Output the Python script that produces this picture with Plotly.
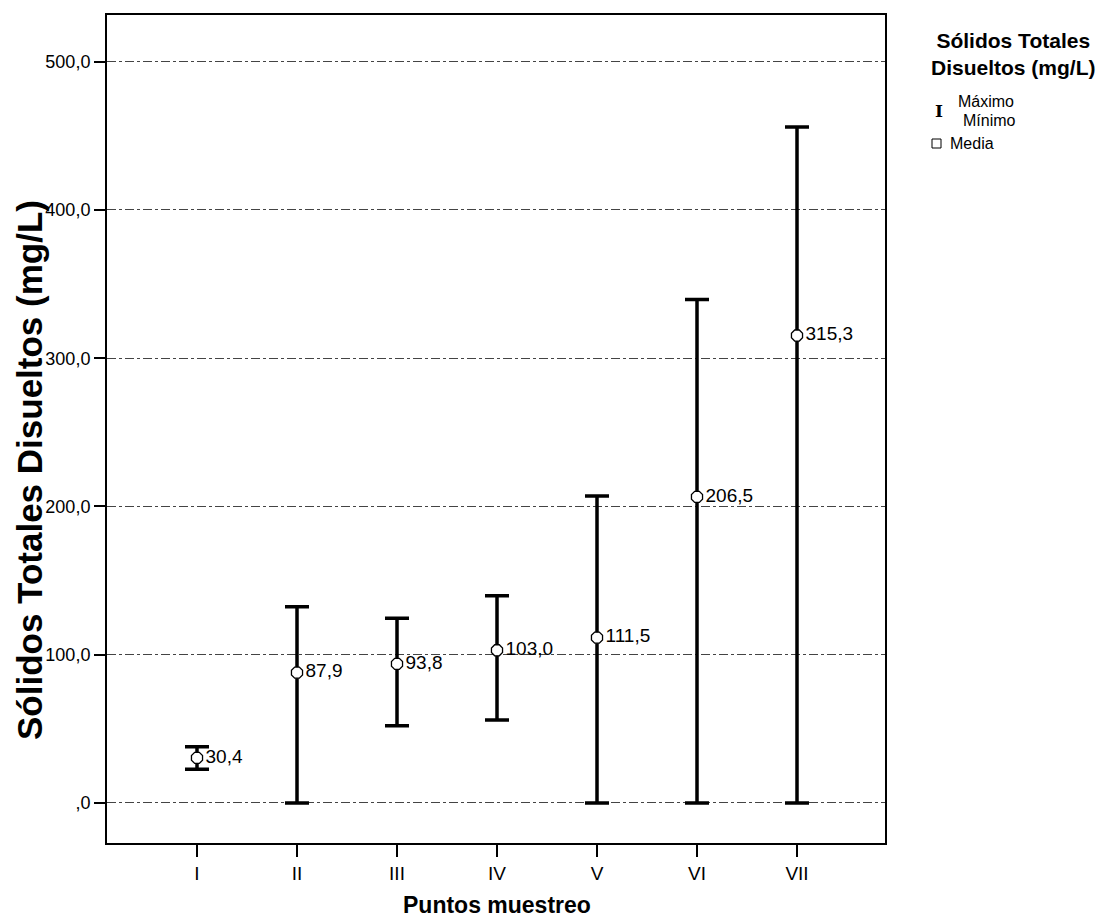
import plotly.graph_objects as go

categories = ["I", "II", "III", "IV", "V", "VI", "VII"]
mean_vals = [30.4, 87.9, 93.8, 103.0, 111.5, 206.5, 315.3]
max_vals = [37.9, 132.4, 124.6, 139.8, 207.0, 339.6, 455.9]
min_vals = [22.8, 0.0, 52.1, 56.0, 0.0, 0.0, 0.0]
mean_labels = ["30,4", "87,9", "93,8", "103,0", "111,5", "206,5", "315,3"]
y_tick_vals = [0, 100, 200, 300, 400, 500]
y_tick_text = [",0", "100,0", "200,0", "300,0", "400,0", "500,0"]

W, H = 1111, 924
L, R, T, B = 107, 885, 15, 843

def px(x):
    return (x - L) / (R - L)

def py(y):
    return (B - y) / (B - T)

xs = list(range(len(categories)))
font_main = "Liberation Sans, Arial, sans-serif"

fig = go.Figure()
fig.add_trace(go.Scatter(
    x=xs, y=mean_vals,
    mode="markers+text",
    text=mean_labels,
    textposition="middle right",
    textfont=dict(family=font_main, size=19, color="black"),
    marker=dict(symbol="octagon", size=12, color="white", line=dict(color="black", width=1.3)),
    error_y=dict(
        type="data", symmetric=False,
        array=[mx - m for mx, m in zip(max_vals, mean_vals)],
        arrayminus=[m - mn for m, mn in zip(mean_vals, min_vals)],
        color="black", thickness=3.5, width=12,
    ),
    showlegend=False,
    cliponaxis=False,
))

fig.update_layout(
    width=W, height=H,
    margin=dict(l=L, r=W - R, t=T, b=H - B, pad=0),
    plot_bgcolor="white", paper_bgcolor="white",
    font=dict(family=font_main, color="black"),
    xaxis=dict(
        range=[-0.9, 6.88],
        tickmode="array", tickvals=xs, ticktext=categories,
        showgrid=False, zeroline=False,
        showline=True, linecolor="black", linewidth=2, mirror=True,
        ticks="outside", ticklen=12, tickwidth=2, tickcolor="black",
        tickfont=dict(family=font_main, size=19, color="black"),
    ),
    yaxis=dict(
        range=[-27, 531.5],
        tickmode="array", tickvals=y_tick_vals, ticktext=y_tick_text,
        showgrid=True, gridcolor="#444444", gridwidth=1, griddash="dashdot",
        zeroline=False,
        showline=True, linecolor="black", linewidth=2, mirror=True,
        ticks="outside", ticklen=11, tickwidth=2, tickcolor="black",
        tickfont=dict(family=font_main, size=18, color="black"),
    ),
)

def ann(text, x, y, size, xanchor="center", family=font_main, angle=0):
    return dict(text=text, x=px(x), y=py(y), xref="paper", yref="paper",
                showarrow=False, textangle=angle, font=dict(size=size, family=family, color="black"),
                xanchor=xanchor, yanchor="middle")

annotations = [
    ann("<b>Puntos muestreo</b>", 497, 905, 23),
    ann("<b>Sólidos Totales Disueltos (mg/L)</b>", 29, 470, 35, angle=-90),
    ann("<b>Sólidos Totales<br>Disueltos (mg/L)</b>", 1013, 54, 21),
    ann("<b>I</b>", 939, 111, 17, family="DejaVu Serif, serif"),
    ann("Máximo", 956, 101, 16, xanchor="left"),
    ann("Mínimo", 961, 120, 16, xanchor="left"),
    ann("Media", 948, 143, 16, xanchor="left"),
]
fig.update_layout(annotations=annotations)

fig.add_shape(type="rect", xref="paper", yref="paper",
              x0=px(932), x1=px(941), y0=py(139), y1=py(148),
              line=dict(color="black", width=1), fillcolor="white")

fig.write_html("out.html", config={"displayModeBar": False},
               post_script="document.body.style.margin='0';")
